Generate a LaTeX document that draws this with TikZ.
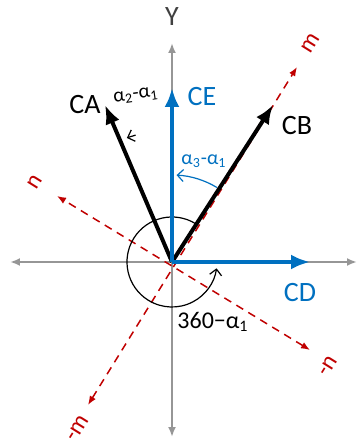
\documentclass[tikz,border=0pt]{standalone}
\usepackage{fontspec}
\setmainfont{Carlito}
\usetikzlibrary{arrows.meta}

\definecolor{axisgray}{RGB}{150,150,150}
\definecolor{vecblue}{RGB}{0,112,192}
\definecolor{mnred}{RGB}{192,0,0}

\begin{document}
\begin{tikzpicture}[
    x=0.5pt, y=0.5pt,
    axis/.style={axisgray, line width=1pt, {Latex[length=5pt,width=4pt]}-{Latex[length=5pt,width=4pt]}},
    frame/.style={mnred, line width=0.75pt, dash pattern=on 4pt off 3pt, {Latex[length=4.5pt,width=3.5pt]}-{Latex[length=4.5pt,width=3.5pt]}},
    vec/.style={line width=2pt, -{Latex[length=9.5pt,width=7.5pt]}},
    lbl/.style={font=\fontsize{14}{14}\selectfont, inner sep=1pt},
    small/.style={font=\fontsize{10}{10}\selectfont, inner sep=1pt},
    flab/.style={mnred, font=\fontsize{12}{12}\selectfont, rotate=58, inner sep=0pt},
    turn/.style={line width=0.6pt, -{Straight Barb[length=3pt,width=6pt]}}
]
\useasboundingbox (-172,-181) rectangle (187,262);
\coordinate (O) at (0,0);
\coordinate (ytop) at (0,219);
\coordinate (ybot) at (0,-175);
\coordinate (xleft) at (-162,0);
\coordinate (xright) at (185,0);
\coordinate (mpos) at (125,195);
\coordinate (mneg) at (-84,-143);
\coordinate (npos) at (-115,66);
\coordinate (nneg) at (138,-88);
\coordinate (catip) at (-67,157);
\coordinate (cbtip) at (101,157);
\coordinate (cetip) at (0,174);
\coordinate (cdtip) at (138,0);

% axes
\draw[axis] (ybot) -- (ytop);
\draw[axis] (xleft) -- (xright);
\node[lbl, text=black!75] (ylab) at (0,245) {Y};

% rotated frame
\draw[frame] (mneg) -- (mpos);
\draw[frame] (nneg) -- (npos);
\node[flab] (mlab) at (139,219) {m};
\node[flab] (mneglab) at (-94,-166) {-m};
\node[flab] (nlab) at (-137,80) {n};
\node[flab] (nneglab) at (156,-104) {-n};

% angles
\draw[turn] ([shift={(58:45)}]O) arc[start angle=58, end angle=352, radius=45];
\draw[turn, vecblue] ([shift={(59:87)}]O) arc[start angle=59, end angle=87, radius=87];
\draw[turn] ([shift={(106:132)}]O) arc[start angle=106, end angle=110, radius=132];

% vectors
\draw[vec] (O) -- (catip);
\draw[vec] (O) -- (cbtip);
\draw[vec, vecblue] (O) -- (cetip);
\draw[vec, vecblue] (O) -- (cdtip);

\node[lbl] (ca) at (-87,157) {CA};
\node[lbl] (cb) at (125,136) {CB};
\node[lbl, text=vecblue] (ce) at (30,165) {CE};
\node[lbl, text=vecblue] (cd) at (128,-31) {CD};

\node[small, rotate=8] (a21) at (-36,166) {α\textsubscript{2}-α\textsubscript{1}};
\node[small, text=vecblue] (a31) at (32,101) {α\textsubscript{3}-α\textsubscript{1}};
\node[lbl, font=\fontsize{12}{12}\selectfont] (a1) at (41,-60) {360−α\textsubscript{1}};
\end{tikzpicture}
\end{document}
